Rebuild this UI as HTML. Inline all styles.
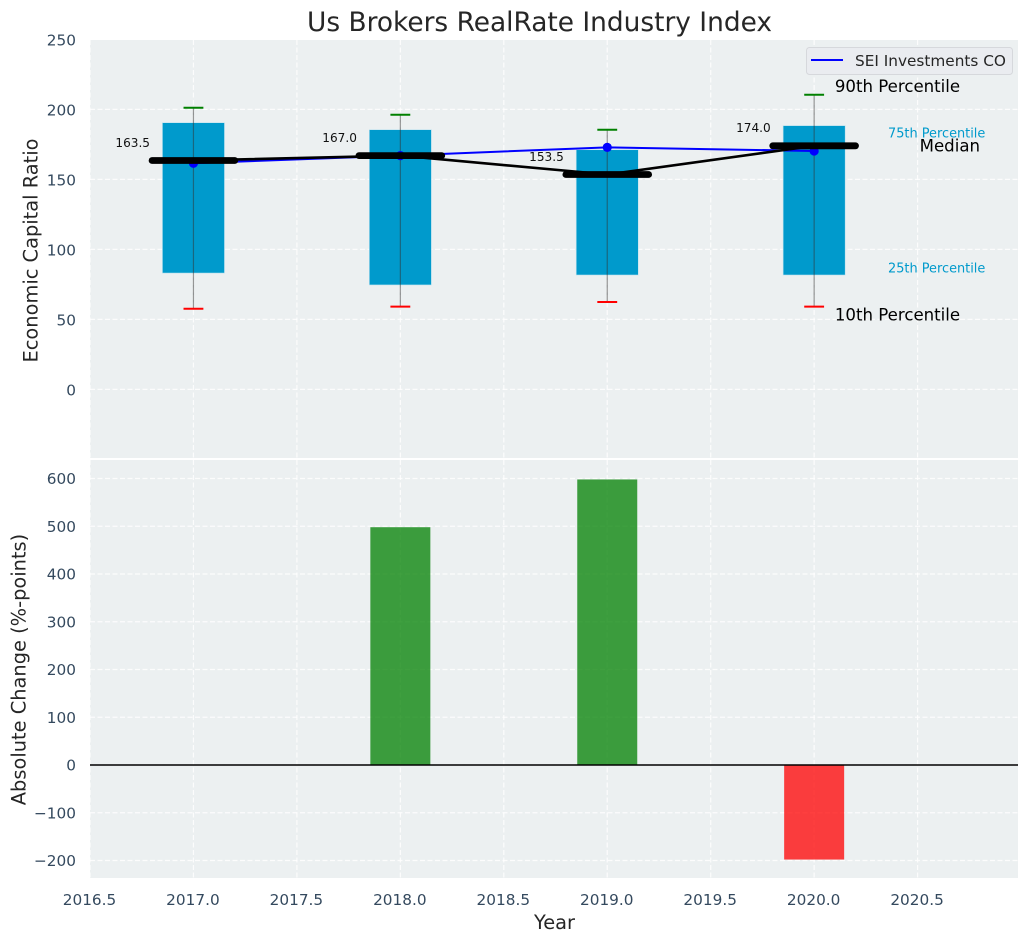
<!DOCTYPE html>
<html lang="en">
<head>
<meta charset="utf-8">
<title>Us Brokers RealRate Industry Index</title>
<style>
html,body{margin:0;padding:0;background:#fff;}
svg{display:block;font-family:"DejaVu Sans","Liberation Sans",sans-serif;}
</style>
</head>
<body>
<svg id="chart" xmlns="http://www.w3.org/2000/svg" width="1029" height="942" viewBox="0 0 1029 942">
  <rect x="0" y="0" width="1029" height="942" fill="#ffffff"/>
  <rect x="90" y="40" width="928" height="418" fill="#ecf0f1"/>
  <rect x="90" y="460" width="928" height="418" fill="#ecf0f1"/>
  <g id="grid"></g>
  <g id="ticks"></g>
  <g id="top-marks"></g>
  <g id="bottom-marks"></g>
  <text x="539.5" y="31" text-anchor="middle" font-size="26.4px" fill="#262626">Us Brokers RealRate Industry Index</text>
  <text transform="translate(37.5,250.5) rotate(-90)" text-anchor="middle" font-size="19.4px" fill="#262626">Economic Capital Ratio</text>
  <text transform="translate(25.5,669.5) rotate(-90)" text-anchor="middle" font-size="19.4px" fill="#262626">Absolute Change (%-points)</text>
  <text x="554.5" y="929" text-anchor="middle" font-size="19.4px" fill="#262626">Year</text>
  <g>
    <rect x="806.5" y="47.5" width="206" height="27" rx="3" fill="#eaecf0" stroke="#d6d8dc" stroke-width="1"/>
    <line x1="811" y1="60" x2="843" y2="60" stroke="#0000ff" stroke-width="2"/>
    <text x="855" y="66" font-size="15.3px" fill="#262626">SEI Investments CO</text>
  </g>
</svg>
<script>
// Chart data
const years = [2017, 2018, 2019, 2020];
const p90 = [201.2, 196.2, 185.5, 210.5];
const p75 = [190.5, 185.5, 171.2, 188.4];
const median = [163.5, 167.0, 153.5, 174.0];
const p25 = [83.1, 74.6, 81.7, 81.7];
const p10 = [57.6, 59.1, 62.4, 59.1];
const company = [161.5, 167.0, 172.9, 170.3];
const changes = [0, 498, 598, -198];
const xTickLabels = ['2016.5', '2017.0', '2017.5', '2018.0', '2018.5', '2019.0', '2019.5', '2020.0', '2020.5'];
const topTickLabels = ['0', '50', '100', '150', '200', '250'];
const bottomTickLabels = ['\u2212200', '\u2212100', '0', '100', '200', '300', '400', '500', '600'];

// Axis functions
const xScale = v => 90 + (v - 2016.5) * 206.9;
const yTop = v => 389.4 - v * 1.4;
const yBottom = v => 765 - v * 0.4775;
const tickValue = s => parseFloat(s.replace('\u2212', '-'));

const NS = 'http://www.w3.org/2000/svg';
function el(parent, tag, attrs) {
  const node = document.createElementNS(NS, tag);
  for (const k in attrs) node.setAttribute(k, attrs[k]);
  parent.appendChild(node);
  return node;
}
const grid = document.getElementById('grid');
const ticks = document.getElementById('ticks');
const top_ = document.getElementById('top-marks');
const bottom = document.getElementById('bottom-marks');
const gridStyle = {stroke: '#ffffff', 'stroke-width': 1.2, 'stroke-dasharray': '5 2.5', opacity: 0.85};
const tickFont = '15.3px';

// Grid and ticks
xTickLabels.forEach(label => {
  const x = xScale(tickValue(label));
  const a = el(grid, 'line', Object.assign({x1: x, x2: x, y1: 40, y2: 458}, gridStyle));
  
  
  const b = el(grid, 'line', Object.assign({x1: x, x2: x, y1: 460, y2: 878}, gridStyle));
  
  
  const t = el(ticks, 'text', {x: x - 0.5, y: 905, 'text-anchor': 'middle', 'font-size': tickFont, fill: '#34495e'});
  
  
  t.textContent = label;
});
topTickLabels.forEach(label => {
  const y = yTop(tickValue(label));
  const g = el(grid, 'line', Object.assign({x1: 90, x2: 1018, y1: y, y2: y}, gridStyle));
  
  
  const t = el(ticks, 'text', {x: 76, y: y + 6, 'text-anchor': 'end', 'font-size': tickFont, fill: '#34495e'});
  
  
  t.textContent = label;
});
bottomTickLabels.forEach(label => {
  const y = yBottom(tickValue(label));
  const g = el(grid, 'line', Object.assign({x1: 90, x2: 1018, y1: y, y2: y}, gridStyle));
  
  
  const t = el(ticks, 'text', {x: 76, y: y + 5.5, 'text-anchor': 'end', 'font-size': tickFont, fill: '#34495e'});
  
  
  t.textContent = label;
});

// Interquartile boxes
years.forEach((yr, i) => {
  const x = xScale(yr - 0.15);
  const w = xScale(yr + 0.15) - x;
  const r = el(top_, 'rect', {x: x, y: yTop(p75[i]), width: w, height: yTop(p25[i]) - yTop(p75[i]), fill: '#009acc', stroke: '#bfe3ef', 'stroke-width': 0.6});
  
  
});

// Whiskers and caps
years.forEach((yr, i) => {
  const x = xScale(yr);
  const w = el(top_, 'line', {x1: x, x2: x, y1: yTop(p90[i]), y2: yTop(p10[i]), stroke: '#333333', 'stroke-width': 1.2, opacity: 0.5});
  
  
  const c90 = el(top_, 'line', {x1: xScale(yr - 0.048), x2: xScale(yr + 0.048), y1: yTop(p90[i]), y2: yTop(p90[i]), stroke: '#008000', 'stroke-width': 2});
  
  
  const c10 = el(top_, 'line', {x1: xScale(yr - 0.048), x2: xScale(yr + 0.048), y1: yTop(p10[i]), y2: yTop(p10[i]), stroke: '#ff0000', 'stroke-width': 2});
  
  
});

// Company series
const companyLine = el(top_, 'polyline', {points: years.map((yr, i) => xScale(yr) + ',' + yTop(company[i])).join(' '), fill: 'none', stroke: '#0000ff', 'stroke-width': 2});


years.forEach((yr, i) => {
  const p = el(top_, 'circle', {cx: xScale(yr), cy: yTop(company[i]), r: 4.6, fill: '#0000ff'});
  
  
});

// Median line, thick median bars and value labels
const medianLine = el(top_, 'polyline', {points: years.map((yr, i) => xScale(yr) + ',' + yTop(median[i])).join(' '), fill: 'none', stroke: '#000000', 'stroke-width': 2.6});


years.forEach((yr, i) => {
  const m = el(top_, 'line', {x1: xScale(yr - 0.2), x2: xScale(yr + 0.2), y1: yTop(median[i]), y2: yTop(median[i]), stroke: '#000000', 'stroke-width': 6.8, 'stroke-linecap': 'round'});
  
  
  const t = el(top_, 'text', {x: xScale(yr - 0.21), y: yTop(median[i]) - 13.7, 'text-anchor': 'end', 'font-size': '12.1px', fill: '#111111'});
  
  
  t.textContent = median[i].toFixed(1);
});

// Percentile annotations, anchored to the last year
const last = years.length - 1;
const a90 = el(top_, 'text', {x: xScale(years[last] + 0.1), y: yTop(p90[last]) - 2.5, 'font-size': '16.6px', fill: '#000000'});


a90.textContent = '90th Percentile';
const a75 = el(top_, 'text', {x: xScale(years[last] + 0.357), y: yTop(p75[last]) + 11.8, 'font-size': '12.9px', fill: '#009acc'});


a75.textContent = '75th Percentile';
const aMed = el(top_, 'text', {x: xScale(years[last] + 0.51), y: yTop(median[last]) + 5.5, 'font-size': '16.6px', fill: '#000000'});


aMed.textContent = 'Median';
const a25 = el(top_, 'text', {x: xScale(years[last] + 0.357), y: yTop(p25[last]) - 2.5, 'font-size': '12.9px', fill: '#009acc'});


a25.textContent = '25th Percentile';
const a10 = el(top_, 'text', {x: xScale(years[last] + 0.1), y: yTop(p10[last]) + 14, 'font-size': '16.6px', fill: '#000000'});


a10.textContent = '10th Percentile';

// Change bars
years.forEach((yr, i) => {
  const v = changes[i];
  const x = xScale(yr - 0.145);
  const w = xScale(yr + 0.145) - x;
  const y0 = yBottom(Math.max(v, 0));
  const h = Math.abs(yBottom(v) - yBottom(0));
  const b = el(bottom, 'rect', {x: x, y: y0, width: w, height: h, fill: v >= 0 ? '#008000' : '#ff0000', opacity: 0.75});
  
  
});
const zero = el(bottom, 'line', {x1: 90, x2: 1018, y1: yBottom(0), y2: yBottom(0), stroke: '#000000', 'stroke-width': 1.4});


</script>
</body>
</html>
